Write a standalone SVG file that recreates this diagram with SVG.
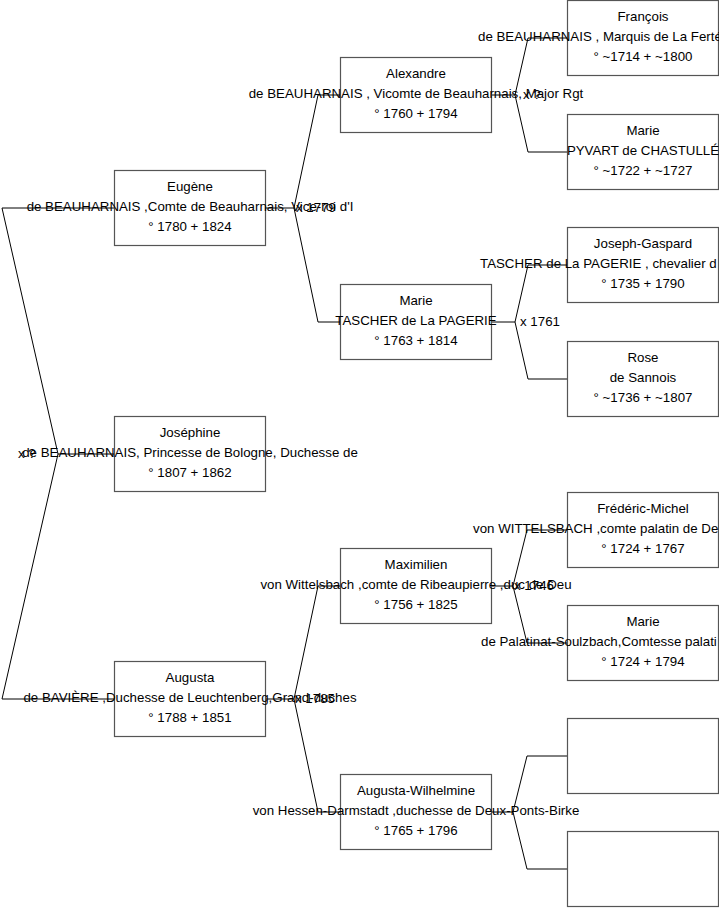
<svg xmlns="http://www.w3.org/2000/svg" width="719" height="908" viewBox="0 0 719 908">
<style>
.box{fill:#fff;stroke:#555;stroke-width:1.2}
.ln{fill:none;stroke:#000;stroke-width:1}
text{font-family:"Liberation Sans",Arial,sans-serif;font-size:13.3px;fill:#000}
.c{text-anchor:middle}
</style>
<rect width="719" height="908" fill="#fff"/>
<g id="connectors">
<polyline class="ln" points="114.5,208 2,208 58,454 2,699 114.5,699"/>
<line class="ln" x1="58" y1="454" x2="114.5" y2="454"/>
<text x="18" y="458">x ?</text>
<polyline class="ln" points="340.5,95 318,95 294,208 318,322 340.5,322"/>
<line class="ln" x1="265.5" y1="208" x2="294" y2="208"/>
<text x="296" y="212">x 1779</text>
<polyline class="ln" points="340.5,586 318,586 294,699 318,812 340.5,812"/>
<line class="ln" x1="265.5" y1="699" x2="294" y2="699"/>
<text x="295" y="703">x 1785</text>
<polyline class="ln" points="567.5,38 528,38 515,95 528,152 567.5,152"/>
<line class="ln" x1="491.5" y1="95" x2="515" y2="95"/>
<text x="523" y="99">x ?</text>
<polyline class="ln" points="567.5,265 528,265 515,322 528,379 567.5,379"/>
<line class="ln" x1="491.5" y1="322" x2="515" y2="322"/>
<text x="520" y="326">x 1761</text>
<polyline class="ln" points="567.5,530 527,530 513,586 527,643 567.5,643"/>
<line class="ln" x1="491.5" y1="586" x2="513" y2="586"/>
<text x="514" y="590">x 1746</text>
<polyline class="ln" points="567.5,756 527,756 513,812 527,869 567.5,869"/>
<line class="ln" x1="491.5" y1="812" x2="513" y2="812"/>
</g>
<g id="eugene">
<rect class="box" x="114.5" y="170.5" width="151" height="75"/>
<text class="c" x="190" y="191">Eugène</text>
<text class="c" x="190" y="211">de BEAUHARNAIS ,Comte de Beauharnais, Vice-roi d'I</text>
<text class="c" x="190" y="230.5">° 1780 + 1824</text>
</g>
<g id="josephine">
<rect class="box" x="114.5" y="416.5" width="151" height="75"/>
<text class="c" x="190" y="437">Joséphine</text>
<text class="c" x="190" y="457">de BEAUHARNAIS, Princesse de Bologne, Duchesse de</text>
<text class="c" x="190" y="476.5">° 1807 + 1862</text>
</g>
<g id="augusta">
<rect class="box" x="114.5" y="661.5" width="151" height="75"/>
<text class="c" x="190" y="682">Augusta</text>
<text class="c" x="190" y="702">de BAVIÈRE ,Duchesse de Leuchtenberg,Grand-duches</text>
<text class="c" x="190" y="721.5">° 1788 + 1851</text>
</g>
<g id="alexandre">
<rect class="box" x="340.5" y="57.5" width="151" height="75"/>
<text class="c" x="416" y="78">Alexandre</text>
<text class="c" x="416" y="98">de BEAUHARNAIS , Vicomte de Beauharnais, Major Rgt</text>
<text class="c" x="416" y="117.5">° 1760 + 1794</text>
</g>
<g id="marie-tascher">
<rect class="box" x="340.5" y="284.5" width="151" height="75"/>
<text class="c" x="416" y="305">Marie</text>
<text class="c" x="416" y="325">TASCHER de La PAGERIE</text>
<text class="c" x="416" y="344.5">° 1763 + 1814</text>
</g>
<g id="maximilien">
<rect class="box" x="340.5" y="548.5" width="151" height="75"/>
<text class="c" x="416" y="569">Maximilien</text>
<text class="c" x="416" y="589">von Wittelsbach ,comte de Ribeaupierre ,duc de Deu</text>
<text class="c" x="416" y="608.5">° 1756 + 1825</text>
</g>
<g id="augusta-wilhelmine">
<rect class="box" x="340.5" y="774.5" width="151" height="75"/>
<text class="c" x="416" y="795">Augusta-Wilhelmine</text>
<text class="c" x="416" y="815">von Hessen-Darmstadt ,duchesse de Deux-Ponts-Birke</text>
<text class="c" x="416" y="834.5">° 1765 + 1796</text>
</g>
<g id="francois">
<rect class="box" x="567.5" y="0.5" width="151" height="75"/>
<text class="c" x="643" y="21">François</text>
<text x="478" y="41">de BEAUHARNAIS , Marquis de La Ferté</text>
<text class="c" x="643" y="60.5">° ~1714 + ~1800</text>
</g>
<g id="marie-pyvart">
<rect class="box" x="567.5" y="114.5" width="151" height="75"/>
<text class="c" x="643" y="135">Marie</text>
<text class="c" x="643" y="155">PYVART de CHASTULLÉ</text>
<text class="c" x="643" y="174.5">° ~1722 + ~1727</text>
</g>
<g id="joseph-gaspard">
<rect class="box" x="567.5" y="227.5" width="151" height="75"/>
<text class="c" x="643" y="248">Joseph-Gaspard</text>
<text x="480" y="268">TASCHER de La PAGERIE ,  chevalier d</text>
<text class="c" x="643" y="287.5">° 1735 + 1790</text>
</g>
<g id="rose">
<rect class="box" x="567.5" y="341.5" width="151" height="75"/>
<text class="c" x="643" y="362">Rose</text>
<text class="c" x="643" y="382">de Sannois</text>
<text class="c" x="643" y="401.5">° ~1736 + ~1807</text>
</g>
<g id="frederic-michel">
<rect class="box" x="567.5" y="492.5" width="151" height="75"/>
<text class="c" x="643" y="513">Frédéric-Michel</text>
<text x="473" y="533">von WITTELSBACH ,comte palatin de De</text>
<text class="c" x="643" y="552.5">° 1724 + 1767</text>
</g>
<g id="marie-palatinat">
<rect class="box" x="567.5" y="605.5" width="151" height="75"/>
<text class="c" x="643" y="626">Marie</text>
<text x="481" y="646">de Palatinat-Soulzbach,Comtesse palati</text>
<text class="c" x="643" y="665.5">° 1724 + 1794</text>
</g>
<g id="unknown-1">
<rect class="box" x="567.5" y="718.5" width="151" height="75"/>
</g>
<g id="unknown-2">
<rect class="box" x="567.5" y="831.5" width="151" height="75"/>
</g>
</svg>
